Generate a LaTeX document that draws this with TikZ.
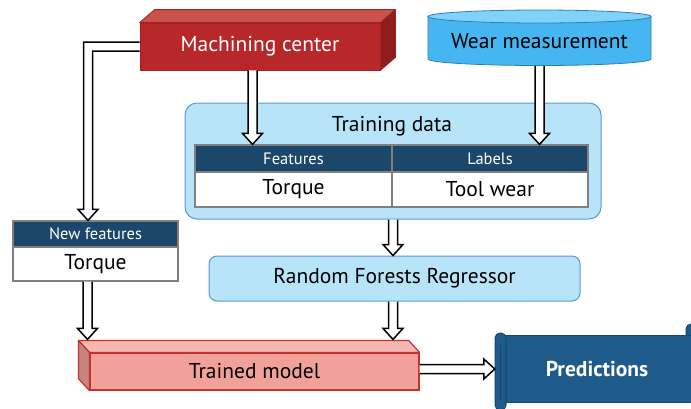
\documentclass[tikz,border=0pt]{standalone}
\usepackage{fontspec}
\setmainfont{PT Sans}
\usetikzlibrary{calc}

\definecolor{mcfront}{HTML}{B8282A}
\definecolor{mctop}{HTML}{C9534C}
\definecolor{mcside}{HTML}{8F1D1D}
\definecolor{mcline}{HTML}{A62222}
\definecolor{cylbody}{HTML}{46B6F3}
\definecolor{cyltop}{HTML}{80D2F9}
\definecolor{cylline}{HTML}{2F7FB6}
\definecolor{boxfill}{HTML}{B8E4F9}
\definecolor{boxline}{HTML}{5B9BCB}
\definecolor{hdrfill}{HTML}{1B476B}
\definecolor{cellline}{HTML}{808080}
\definecolor{tmfront}{HTML}{F2A19A}
\definecolor{tmtopc}{HTML}{F5B7B0}
\definecolor{tmside}{HTML}{C7837E}
\definecolor{tmline}{HTML}{C23330}
\definecolor{predfill}{HTML}{1F5B8A}
\definecolor{predline}{HTML}{17476E}

\newcommand\bigtext{\fontsize{21.5}{24}\selectfont}
\newcommand\smalltext{\fontsize{16.5}{19}\selectfont}

% hollow block arrow between two points
\newcommand\blockarrow[2]{%
  \coordinate (bahead) at ($(#2)!11pt!(#1)$);
  \draw[hollowarrow] ($(#1)!4.5pt!90:(#2)$) -- ($(bahead)!4.5pt!90:(#2)$)
    -- ($(bahead)!10pt!90:(#2)$) -- (#2) -- ($(bahead)!10pt!-90:(#2)$)
    -- ($(bahead)!4.5pt!-90:(#2)$) -- ($(#1)!4.5pt!-90:(#2)$);
}

\begin{document}
\begin{tikzpicture}[x=1pt,y=-1pt,
  hollowarrow/.style={fill=white, draw=black, line width=1.5pt, line join=miter},
  mcface/.style={fill=mcfront, draw=mcline, line width=0.8pt, text=white,
    font=\bigtext, minimum width=240pt, minimum height=47pt, inner sep=0pt},
  roundbox/.style={fill=boxfill, draw=boxline, line width=1pt, inner sep=0pt},
  hdrcell/.style={fill=hdrfill, draw=cellline, line width=1.2pt, text=white,
    font=\smalltext, inner sep=0pt},
  bodycell/.style={fill=white, draw=cellline, line width=1.2pt,
    font=\bigtext, inner sep=0pt},
  tmface/.style={fill=tmfront, draw=tmline, line width=1.2pt, font=\bigtext,
    minimum width=329pt, minimum height=37pt, inner sep=0pt}
]
\useasboundingbox (0,0) rectangle (691,408);

% Machining center (block)
\node[mcface] (mc) at (260,46.5) {Machining center};
\draw[fill=mctop, draw=mcline, line width=0.8pt, line join=round]
  (mc.north west) -- ++(15,-13) -- ($(mc.north east)+(15,-13)$) -- (mc.north east) -- cycle;
\draw[fill=mcside, draw=mcline, line width=0.8pt, line join=round]
  (mc.north east) -- ++(15,-13) -- ($(mc.south east)+(15,-13)$) -- (mc.south east) -- cycle;

% Wear measurement (cylinder)
\draw[fill=cylbody, draw=cylline, line width=0.8pt]
  (428,16.5) -- (428,59) arc[start angle=180, end angle=360, x radius=111.5pt, y radius=6.5pt]
  -- (651,16.5) -- cycle;
\draw[fill=cyltop, draw=cylline, line width=0.8pt]
  (539.5,16.5) ellipse [x radius=111.5pt, y radius=6.5pt];
\node[font=\bigtext, minimum width=223pt, minimum height=50pt, inner sep=0pt]
  (wear) at (539.5,41) {Wear measurement};

% Training data
\node[roundbox, rounded corners=12pt, minimum width=416pt, minimum height=116pt]
  (td) at (393,161) {};
\node[font=\bigtext] (tdlabel) at (392,126) {Training data};
\node[hdrcell, minimum width=197pt, minimum height=27pt] (feath) at (293.5,158.5) {Features};
\node[hdrcell, minimum width=196pt, minimum height=27pt] (labh) at (490,158.5) {Labels};
\node[bodycell, minimum width=197pt, minimum height=35pt] (featb) at (293.5,189.5) {Torque};
\node[bodycell, minimum width=196pt, minimum height=35pt] (labb) at (490,189.5) {Tool wear};

% New features
\node[hdrcell, minimum width=165pt, minimum height=26pt] (nfh) at (95.5,234) {New features};
\node[bodycell, minimum width=165pt, minimum height=34pt] (nfb) at (95.5,264) {Torque};

% Random Forests Regressor
\node[roundbox, rounded corners=8pt, minimum width=371pt, minimum height=45pt, font=\bigtext]
  (rfr) at (394.5,278.5) {Random Forests Regressor};

% Trained model (block)
\node[tmface] (tm) at (254.5,371.5) {Trained model};
\draw[fill=tmtopc, draw=tmline, line width=1.2pt, line join=round]
  (tm.north east) -- ++(-11,-12) -- ($(tm.north west)+(-11,-12)$) -- (tm.north west) -- cycle;
\draw[fill=tmside, draw=tmline, line width=1.2pt, line join=round]
  (tm.north west) -- ++(-11,-12) -- ($(tm.south west)+(-11,-12)$) -- (tm.south west) -- cycle;
\coordinate (tmtop) at ($(tm.north)+(0,-13)$);

% Predictions (scroll)
\draw[fill=predfill, draw=predline, line width=1pt, rounded corners=5pt]
  (686,324) rectangle (702,345);
\draw[fill=predfill, draw=predline, line width=1pt]
  (500,335) rectangle (702,402);
\draw[fill=predfill, draw=predline, line width=1pt, rounded corners=5pt]
  (495,333) rectangle (506,410);
\draw[predline, line width=1.5pt] (500.5,345) -- (500.5,400);
\node[font=\bigtext\bfseries, text=white, minimum width=204pt, minimum height=70pt,
  inner sep=0pt] (pred) at (597,369) {Predictions};

% Arrows
\coordinate (a1e) at ($(nfh.north)+(-7.5,0)$);
\coordinate (a1c) at (a1e |- mc.west);
\draw[hollowarrow] ($(mc.west)+(0,-4.5)$) -- ($(a1c)+(-4.5,-4.5)$) -- ($(a1e)+(-4.5,-11)$)
  -- ($(a1e)+(-10,-11)$) -- (a1e) -- ($(a1e)+(10,-11)$) -- ($(a1e)+(4.5,-11)$)
  -- ($(a1c)+(4.5,4.5)$) -- ($(mc.west)+(0,4.5)$);

\coordinate (a2s) at ($(mc.south)+(-7.5,0)$);
\coordinate (a2e) at (a2s |- feath.north);
\blockarrow{a2s}{a2e}

\coordinate (a3e) at (wear.south |- labh.north);
\blockarrow{wear.south}{a3e}

\coordinate (a4e) at (td.south |- rfr.north);
\blockarrow{td.south}{a4e}

\coordinate (a5s) at ($(rfr.south)+(-1.5,0)$);
\coordinate (a5e) at (a5s |- tmtop);
\blockarrow{a5s}{a5e}

\coordinate (a6s) at ($(nfb.south)+(-8,0)$);
\coordinate (a6e) at (a6s |- tmtop);
\blockarrow{a6s}{a6e}

\coordinate (a7s) at (tm.east |- pred.west);
\blockarrow{a7s}{pred.west}
\end{tikzpicture}
\end{document}
